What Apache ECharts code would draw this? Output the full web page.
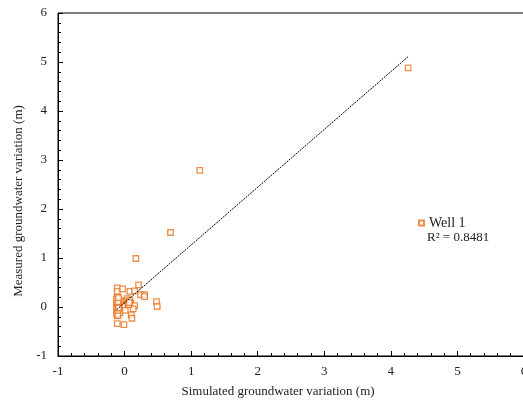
<!DOCTYPE html>
<html>
<head>
<meta charset="utf-8">
<script src="https://cdn.jsdelivr.net/npm/echarts@6/dist/echarts.min.js"></script>
<style>
  html, body { margin: 0; padding: 0; background: #fff; }
  #chart { width: 523px; height: 406px; }
</style>
</head>
<body>
<div id="chart"></div>
<script>
// simulated (x) vs measured (y) groundwater variation, Well 1
const simX = [4.26, 1.13, 0.69, 0.17,
  -0.11, -0.11, -0.03, 0.21, 0.08, 0.15, 0.24, 0.30, 0.30, 0.48, 0.49,
  -0.01, 0.07, 0.09, -0.02, 0.15, 0.01, 0.13, 0.10, 0.11, -0.11, -0.01,
  -0.11, -0.11, -0.11, -0.11, -0.11, -0.11, -0.11, -0.11, -0.11, -0.11,
  -0.11, -0.11, -0.11, -0.11, -0.11, -0.11, -0.09, -0.08, -0.08, -0.07,
  0.03, 0.05, 0.06, 0.04,
  -0.12, -0.12, -0.12, -0.12, -0.10, -0.10, -0.10, -0.10, -0.09, -0.09,
  0.06, 0.08, 0.07];
const measY = [4.88, 2.79, 1.52, 0.99,
  0.39, 0.32, 0.37, 0.45, 0.32, 0.33, 0.25, 0.25, 0.21, 0.11, 0.01,
  0.11, 0.10, 0.08, 0.03, 0.03, -0.07, -0.04, -0.16, -0.23, -0.34, -0.36,
  -0.18, -0.15, -0.12, -0.10, -0.08, -0.05, -0.03, 0.00, 0.02, 0.05,
  0.07, 0.10, 0.12, 0.15, 0.18, 0.20, -0.06, 0.04, 0.14, -0.12,
  0.13, 0.08, 0.05, 0.17,
  -0.14, -0.01, 0.09, 0.16, -0.17, -0.07, 0.04, 0.11, 0.19, -0.02,
  0.12, 0.14, 0.09];
// linear trendline end points
const trendX = [-0.12, 4.26];
const trendY = [-0.055, 5.11];
const axisTicks = { min: -1, max: 6, interval: 1 };

const serif = '"Liberation Serif", "DejaVu Serif", serif';
const orange = '#E8731E';

const chart = echarts.init(document.getElementById('chart'));

const axisBase = {
  type: 'value',
  min: axisTicks.min,
  max: axisTicks.max,
  interval: axisTicks.interval,
  axisLine: { show: true, onZero: false, lineStyle: { color: '#000', width: 1 } },
  axisTick: { show: true, inside: true, length: 5, lineStyle: { color: '#000' } },
  minorTick: { show: true, splitNumber: 5, length: 3, lineStyle: { color: '#000' } },
  splitLine: { show: false },
  axisLabel: { color: '#222', fontFamily: serif, fontSize: 13 }
};

chart.setOption({
  animation: false,
  grid: {
    left: 58, top: 13, width: 466, height: 343,
    outerBoundsMode: 'none',
    containLabel: false,
    show: true, borderColor: '#000', borderWidth: 1
  },
  xAxis: Object.assign({}, axisBase, {
    axisLabel: Object.assign({}, axisBase.axisLabel, { margin: 9 })
  }),
  yAxis: Object.assign({}, axisBase, {
    axisLabel: Object.assign({}, axisBase.axisLabel, { margin: 11 })
  }),
  legend: {
    show: true,
    data: ['Well 1'],
    left: 413, top: 211,
    itemWidth: 5, itemHeight: 5, itemGap: 3,
    textStyle: { fontFamily: serif, fontSize: 14, color: '#222' }
  },
  graphic: [
    { type: 'text', left: 427, top: 231,
      style: { text: 'R² = 0.8481', font: '13px ' + serif, fill: '#222' } },
    { type: 'text', x: 278, y: 392,
      style: { text: 'Simulated groundwater variation (m)', font: '13px ' + serif,
        fill: '#222', align: 'center', verticalAlign: 'middle' } },
    { type: 'text', x: 19, y: 201, rotation: Math.PI / 2,
      style: { text: 'Measured groundwater variation (m)', font: '13px ' + serif,
        fill: '#222', align: 'center', verticalAlign: 'middle' } }
  ],
  series: [
    {
      name: 'Well 1',
      type: 'scatter',
      symbol: 'rect',
      symbolSize: 5.5,
      itemStyle: { color: '#fff', borderColor: orange, borderWidth: 1.3 },
      data: simX.map((x, i) => [x, measY[i]])
    },
    {
      name: 'trend',
      type: 'line',
      symbol: 'none',
      z: 3,
      lineStyle: { color: '#000', width: 1, type: [2, 1] },
      data: trendX.map((x, i) => [x, trendY[i]])
    }
  ]
});
</script>
</body>
</html>
